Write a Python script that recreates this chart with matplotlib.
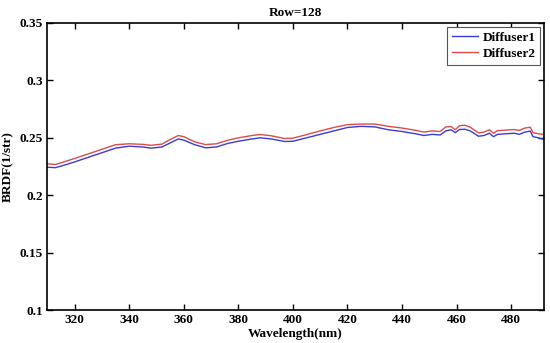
import matplotlib
matplotlib.use("Agg")
import matplotlib.pyplot as plt

# values
wavelength = [310, 313, 316, 320, 325, 330, 335, 340, 345, 348, 352, 355, 358, 360,
              364, 368, 372, 376, 380, 385, 388, 392, 397, 400, 405, 410, 415, 420,
              425, 430, 435, 440, 445, 448, 451, 454, 456, 458, 459.5, 461, 463, 465,
              468, 470, 472, 473.5, 475, 478, 481, 483, 485, 487, 488, 490, 492]
diffuser1 = [0.2244, 0.2240, 0.2260, 0.2290, 0.2330, 0.2370, 0.2410, 0.2427, 0.2420, 0.2410,
             0.2420, 0.2455, 0.2490, 0.2480, 0.2440, 0.2413, 0.2420, 0.2450, 0.2470, 0.2490,
             0.2500, 0.2490, 0.2468, 0.2470, 0.2500, 0.2530, 0.2560, 0.2590, 0.2600, 0.2595,
             0.2570, 0.2555, 0.2535, 0.2520, 0.2530, 0.2525, 0.2560, 0.2570, 0.2545, 0.2572,
             0.2575, 0.2560, 0.2514, 0.2520, 0.2540, 0.2510, 0.2530, 0.2535, 0.2540, 0.2530,
             0.2550, 0.2558, 0.2510, 0.2500, 0.2485]
diffuser2 = [0.2273, 0.2268, 0.2290, 0.2320, 0.2360, 0.2400, 0.2440, 0.2448, 0.2443, 0.2435,
             0.2445, 0.2485, 0.2520, 0.2510, 0.2465, 0.2441, 0.2448, 0.2478, 0.2500, 0.2520,
             0.2529, 0.2518, 0.2494, 0.2497, 0.2528, 0.2560, 0.2590, 0.2615, 0.2620, 0.2620,
             0.2600, 0.2585, 0.2565, 0.2550, 0.2560, 0.2555, 0.2595, 0.2598, 0.2570, 0.2605,
             0.2610, 0.2592, 0.2543, 0.2550, 0.2570, 0.2540, 0.2562, 0.2567, 0.2572, 0.2565,
             0.2585, 0.2592, 0.2545, 0.2535, 0.2529]

xticks = [320, 340, 360, 380, 400, 420, 440, 460, 480]
yticks = [0.1, 0.15, 0.2, 0.25, 0.3, 0.35]

plt.rcParams["font.family"] = ["Liberation Serif", "DejaVu Serif"]
plt.rcParams["font.weight"] = "bold"

fig = plt.figure(figsize=(5.5, 3.43), dpi=100)
ax = fig.add_axes([0.086, 0.096, 0.903, 0.837])

ax.plot(wavelength, diffuser1, color="#3c3cd2", lw=1.0, label="Diffuser1")
ax.plot(wavelength, diffuser2, color="#e04a4a", lw=1.0, label="Diffuser2")

ax.set_xlim(310, 492)
ax.set_ylim(0.1, 0.35)
ax.set_xticks(xticks)
ax.set_xticklabels([str(t) for t in xticks])
ax.set_yticks(yticks)
ax.set_yticklabels(["0.1", "0.15", "0.2", "0.25", "0.3", "0.35"])
ax.tick_params(direction="in", top=True, right=True, length=4, width=1,
               labelsize=9.5, pad=3)
for s in ax.spines.values():
    s.set_linewidth(1.2)

ax.set_title("Row=128", fontsize=9.5, fontweight="bold", pad=5)
ax.set_xlabel("Wavelength(nm)", fontsize=9.5, fontweight="bold", labelpad=1)
ax.set_ylabel("BRDF(1/str)", fontsize=9.5, fontweight="bold", labelpad=4)

leg = ax.legend(loc="upper right", fontsize=9.5, fancybox=False, framealpha=1,
                edgecolor="#555555", handlelength=2.0, borderaxespad=0.3,
                borderpad=0.35, labelspacing=0.3, handletextpad=0.3)
leg.get_frame().set_linewidth(0.8)

fig.savefig("out.png", dpi=100)
